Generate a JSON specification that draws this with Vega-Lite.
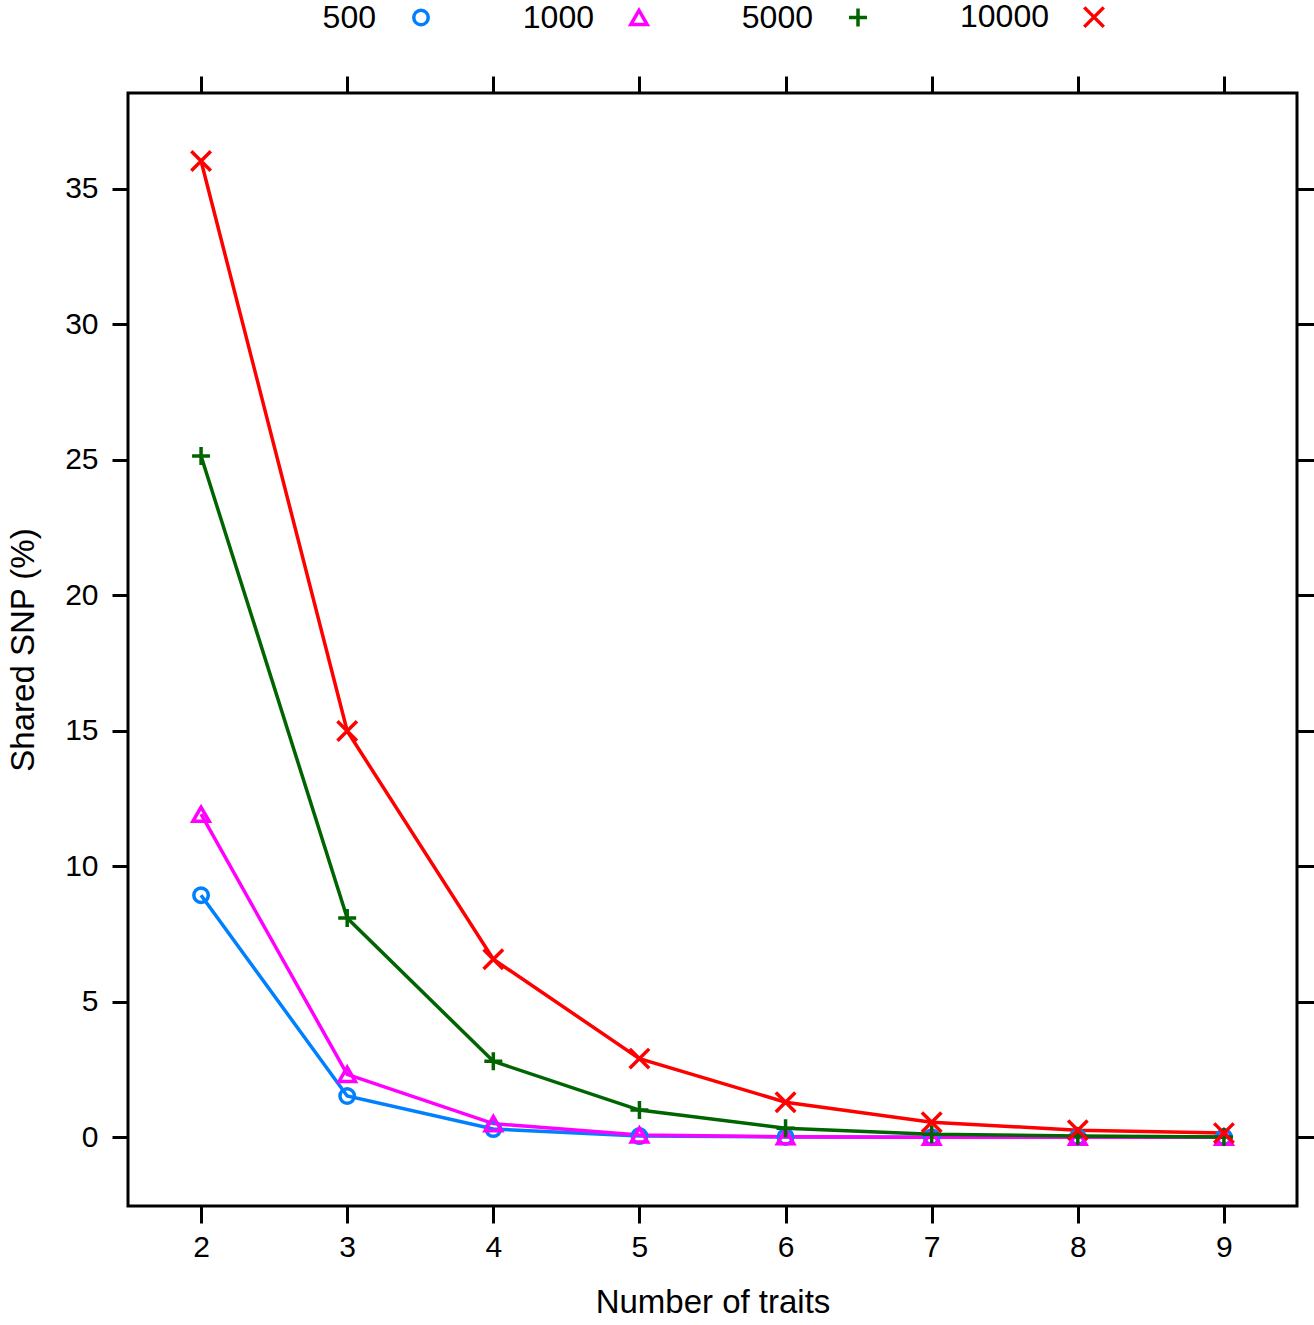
{
  "$schema": "https://vega.github.io/schema/vega-lite/v6.json",
  "autosize": "none",
  "width": 1169,
  "height": 1113,
  "padding": {"left": 128, "top": 93, "right": 17, "bottom": 119},
  "background": "white",
  "data": {
    "values": [
      {"traits": 2, "n": "500", "pct": 8.93},
      {"traits": 3, "n": "500", "pct": 1.52},
      {"traits": 4, "n": "500", "pct": 0.3},
      {"traits": 5, "n": "500", "pct": 0.04},
      {"traits": 6, "n": "500", "pct": 0.01},
      {"traits": 7, "n": "500", "pct": 0.0},
      {"traits": 8, "n": "500", "pct": 0.0},
      {"traits": 9, "n": "500", "pct": 0.0},
      {"traits": 2, "n": "1000", "pct": 11.92},
      {"traits": 3, "n": "1000", "pct": 2.32},
      {"traits": 4, "n": "1000", "pct": 0.5},
      {"traits": 5, "n": "1000", "pct": 0.08},
      {"traits": 6, "n": "1000", "pct": 0.02},
      {"traits": 7, "n": "1000", "pct": 0.0},
      {"traits": 8, "n": "1000", "pct": 0.0},
      {"traits": 9, "n": "1000", "pct": 0.0},
      {"traits": 2, "n": "5000", "pct": 25.14},
      {"traits": 3, "n": "5000", "pct": 8.09},
      {"traits": 4, "n": "5000", "pct": 2.8},
      {"traits": 5, "n": "5000", "pct": 1.0},
      {"traits": 6, "n": "5000", "pct": 0.33},
      {"traits": 7, "n": "5000", "pct": 0.11},
      {"traits": 8, "n": "5000", "pct": 0.04},
      {"traits": 9, "n": "5000", "pct": 0.01},
      {"traits": 2, "n": "10000", "pct": 36.03},
      {"traits": 3, "n": "10000", "pct": 14.99},
      {"traits": 4, "n": "10000", "pct": 6.57},
      {"traits": 5, "n": "10000", "pct": 2.9},
      {"traits": 6, "n": "10000", "pct": 1.29},
      {"traits": 7, "n": "10000", "pct": 0.55},
      {"traits": 8, "n": "10000", "pct": 0.26},
      {"traits": 9, "n": "10000", "pct": 0.15}
    ]
  },
  "layer": [
    {
      "mark": {"type": "line", "strokeWidth": 3.5},
      "encoding": {
        "x": {
          "field": "traits",
          "type": "quantitative",
          "scale": {"domain": [1.5, 9.5], "nice": false, "zero": false},
          "axis": {
            "orient": "bottom",
            "values": [2, 3, 4, 5, 6, 7, 8, 9],
            "title": "Number of traits",
            "tickSize": 17,
            "labelPadding": 9,
            "titleX": 584.5,
            "titleY": 96,
            "titleBaseline": "middle",
            "titleAlign": "center"
          }
        },
        "y": {
          "field": "pct",
          "type": "quantitative",
          "scale": {"domain": [-2.54, 38.54], "nice": false, "zero": false},
          "axis": {
            "orient": "left",
            "values": [0, 5, 10, 15, 20, 25, 30, 35],
            "title": "Shared SNP (%)",
            "tickSize": 16,
            "labelPadding": 14,
            "titleX": -105,
            "titleY": 556.5,
            "titleAngle": -90,
            "titleBaseline": "middle",
            "titleAlign": "center"
          }
        },
        "stroke": {
          "field": "n",
          "type": "nominal",
          "scale": {"domain": ["10000", "5000", "1000", "500"], "range": ["#ff0000", "#006400", "#ff00ff", "#0080ff"]},
          "legend": null
        }
      }
    },
    {
      "mark": {"type": "point", "filled": false, "strokeWidth": 3.5, "opacity": 1},
      "encoding": {
        "x": {
          "field": "traits",
          "type": "quantitative",
          "axis": {"orient": "top", "values": [2, 3, 4, 5, 6, 7, 8, 9], "labels": false, "title": null, "tickSize": 17}
        },
        "y": {
          "field": "pct",
          "type": "quantitative",
          "axis": {"orient": "right", "values": [0, 5, 10, 15, 20, 25, 30, 35], "labels": false, "title": null, "tickSize": 17}
        },
        "color": {
          "field": "n",
          "type": "nominal",
          "scale": {"domain": ["500", "1000", "5000", "10000"], "range": ["#0080ff", "#ff00ff", "#006400", "#ff0000"]},
          "legend": {
            "title": null,
            "orient": "none",
            "direction": "horizontal",
            "columns": 4,
            "legendX": 277,
            "legendY": -92,
            "labelAlign": "right",
            "labelOffset": -61,
            "columnPadding": 86,
            "labelFontSize": 32,
            "labelFont": "Liberation Sans",
            "labelColor": "black",
            "symbolStrokeWidth": 3.5
          }
        },
        "shape": {
          "field": "n",
          "type": "nominal",
          "scale": {
            "domain": ["500", "1000", "5000", "10000"],
            "range": ["circle", "triangle-up", "M-1,0L1,0M0,-1L0,1", "M-1,-1L1,1M1,-1L-1,1"]
          }
        },
        "size": {
          "field": "n",
          "type": "ordinal",
          "scale": {"domain": ["500", "1000", "5000", "10000"], "range": [210, 380, 500, 300]}
        }
      }
    }
  ],
  "resolve": {"axis": {"x": "independent", "y": "independent"}},
  "config": {
    "view": {"stroke": "black", "strokeWidth": 3},
    "axis": {
      "domain": false,
      "grid": false,
      "tickColor": "black",
      "tickWidth": 3,
      "labelColor": "black",
      "labelFont": "Liberation Sans",
      "labelFontSize": 30,
      "titleFont": "Liberation Sans",
      "titleFontSize": 33,
      "titleFontWeight": "normal",
      "titleColor": "black"
    }
  }
}
